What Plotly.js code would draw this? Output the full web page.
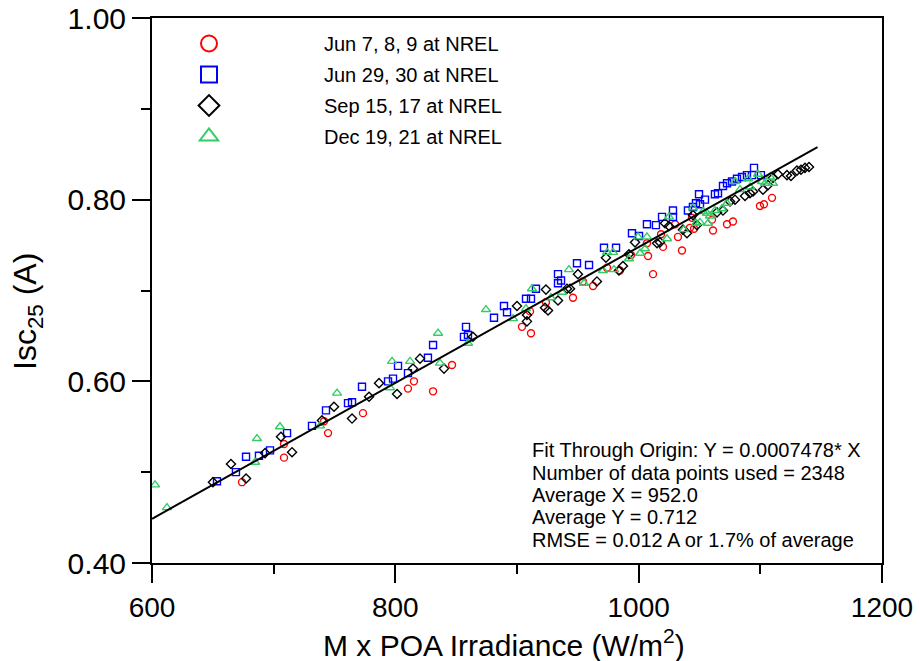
<!DOCTYPE html>
<html>
<head>
<meta charset="utf-8">
<script src="https://cdn.plot.ly/plotly-3.0.1.min.js"></script>
<style>html,body{margin:0;padding:0;background:#fff;}#chart{width:920px;height:661px;}</style>
</head>
<body>
<div id="chart"></div>
<script>
// ---- data ----
const seriesNames = ["Jun 7, 8, 9 at NREL", "Jun 29, 30 at NREL", "Sep 15, 17 at NREL", "Dec 19, 21 at NREL"];

const redX = [674.0,708.5,708.5,741.4,744.7,773.4,810.4,815.3,831.0,846.6,904.1,911.5,910.7,923.8,946.0,954.2,962.5,974.0,984.6,993.7,1007.7,1006.8,1020.0,1011.8,1018.4,1032.3,1035.6,1029.9,1045.5,1043.8,1042.2,1061.1,1072.6,1077.5,1099.7,1103.0,1109.6,1060.3];
const redY = [0.489,0.516,0.531,0.556,0.543,0.565,0.592,0.600,0.589,0.618,0.660,0.653,0.677,0.687,0.692,0.710,0.705,0.725,0.722,0.739,0.738,0.752,0.748,0.718,0.762,0.759,0.744,0.773,0.768,0.780,0.769,0.766,0.773,0.776,0.793,0.795,0.802,0.778];

const blueX = [653.4,669.0,677.3,687.9,697.0,711.0,731.5,743.0,761.1,764.4,772.6,794.0,798.1,802.2,810.4,826.8,831.0,856.4,859.7,858.1,881.1,889.3,891.8,907.4,911.5,915.6,933.7,936.2,933.7,949.3,959.2,971.5,981.4,994.5,1000.3,1006.8,1014.2,1019.2,1028.2,1028.2,1040.5,1044.6,1049.6,1047.1,1050.4,1054.5,1062.7,1065.2,1069.3,1072.6,1076.7,1080.8,1084.9,1089.0,1093.1,1094.8,1100.5];
const blueY = [0.490,0.500,0.517,0.518,0.524,0.543,0.551,0.568,0.576,0.577,0.594,0.600,0.603,0.617,0.609,0.626,0.640,0.649,0.651,0.660,0.670,0.683,0.676,0.691,0.691,0.702,0.718,0.711,0.708,0.730,0.728,0.747,0.747,0.763,0.760,0.773,0.772,0.781,0.788,0.781,0.788,0.792,0.806,0.796,0.795,0.800,0.806,0.807,0.815,0.818,0.820,0.823,0.825,0.827,0.827,0.835,0.827];

const blackX = [650.1,664.9,677.3,692.9,715.1,706.0,739.7,749.6,764.4,778.4,786.6,801.4,814.5,820.3,840.0,863.8,900.0,908.2,908.2,923.8,933.7,923.0,925.5,941.1,943.6,950.1,965.7,973.1,987.1,983.8,992.0,997.0,1015.1,1017.5,1021.6,1024.9,1036.4,1039.7,1044.6,1047.9,1064.4,1069.3,1075.1,1079.2,1087.4,1091.5,1094.0,1102.2,1106.3,1110.4,1114.5,1121.9,1125.2,1130.1,1133.4,1136.7,1140.0];
const blackY = [0.489,0.509,0.493,0.521,0.522,0.539,0.557,0.572,0.559,0.583,0.598,0.586,0.614,0.625,0.614,0.649,0.683,0.673,0.666,0.701,0.689,0.681,0.678,0.702,0.702,0.718,0.710,0.736,0.727,0.722,0.740,0.753,0.752,0.753,0.774,0.771,0.767,0.763,0.783,0.772,0.786,0.788,0.798,0.800,0.804,0.807,0.809,0.811,0.816,0.824,0.828,0.827,0.826,0.832,0.833,0.835,0.836];

const greenX = [602.5,612.3,684.7,686.3,705.2,738.1,752.1,795.6,797.3,812.1,835.1,836.7,859.7,874.5,896.7,907.4,912.3,927.9,937.0,942.7,955.1,970.7,974.0,978.9,979.7,992.0,1001.1,1005.2,999.4,1006.8,1023.3,1024.9,1037.2,1044.6,1047.1,1056.2,1058.6,1052.9,1062.7,1068.5,1072.6,1079.2,1083.3,1089.9,1091.5,1098.1,1101.4,1103.8,1108.0,1110.4,1050.4,1057.0];
const greenY = [0.486,0.461,0.511,0.537,0.550,0.551,0.587,0.593,0.622,0.622,0.653,0.620,0.642,0.679,0.669,0.680,0.702,0.692,0.698,0.723,0.708,0.722,0.742,0.742,0.723,0.735,0.741,0.746,0.759,0.759,0.757,0.781,0.767,0.791,0.774,0.785,0.782,0.787,0.788,0.790,0.796,0.820,0.811,0.823,0.814,0.828,0.820,0.818,0.825,0.818,0.775,0.774];

const fitSlope = 0.0007478;
const fitX = [600, 1147];

const statLines = [
  "Fit Through Origin: Y = 0.0007478* X",
  "Number of data points used = 2348",
  "Average X = 952.0",
  "Average Y = 0.712",
  "RMSE = 0.012 A or 1.7% of average"
];

const xTitle = "M x POA Irradiance (W/m<sup>2</sup>)";
const yTitle = "Isc<sub>25</sub> (A)";
const xTickVals = [600, 800, 1000, 1200];
const yTickVals = [0.40, 0.60, 0.80, 1.00];

// ---- styles ----
const colors = ["#FF0000", "#0000FF", "#000000", "#33CC66"];
const symbols = ["circle-open", "square-open", "diamond-open", "triangle-up-open"];
const sizes = [7, 7, 7, 8];
const xs = [redX, blueX, blackX, greenX];
const ys = [redY, blueY, blackY, greenY];

const traces = [];
for (let i = 0; i < 4; i++) {
  traces.push({
    x: xs[i], y: ys[i], type: "scatter", mode: "markers",
    name: seriesNames[i], showlegend: false, cliponaxis: false,
    legendgroup: "g" + i,
    marker: {symbol: symbols[i], size: sizes[i], color: colors[i], line: {width: 1.4, color: colors[i]}}
  });
}
traces.push({
  x: fitX, y: fitX.map(v => v * fitSlope), type: "scatter", mode: "lines",
  showlegend: false, line: {color: "#000", width: 2}, hoverinfo: "skip"
});
// legend entries
for (let i = 0; i < 4; i++) {
  traces.push({
    x: [null], y: [null], type: "scatter", mode: "markers",
    name: seriesNames[i], showlegend: true, legendgroup: "g" + i,
    marker: {symbol: symbols[i], size: 16, color: colors[i], line: {width: 2, color: colors[i]}}
  });
}

const fontFam = "Liberation Sans, Arial, Helvetica, sans-serif";
const axisCommon = {
  ticks: "outside", ticklen: 18, tickwidth: 2, tickcolor: "#000",
  showline: true, linewidth: 2, linecolor: "#000", mirror: true,
  showgrid: false, zeroline: false
};

const lineYc = [450, 473, 495, 517, 540];
const annotations = statLines.map((t, i) => ({
  text: t, xref: "paper", yref: "paper",
  x: (530 - 152) / 730, y: (563 - lineYc[i]) / 545,
  xanchor: "left", yanchor: "middle", showarrow: false, align: "left",
  font: {size: 20, family: fontFam, color: "#000"}
}));
// axis titles
annotations.push({
  text: xTitle, xref: "paper", yref: "paper",
  x: (504 - 152) / 730, y: (563 - 643) / 545, xanchor: "center", yanchor: "middle",
  showarrow: false, borderpad: 0, font: {size: 30, family: fontFam, color: "#000"}
});
annotations.push({
  text: yTitle, xref: "paper", yref: "paper", textangle: -90,
  x: (28 - 152) / 730, y: (563 - 312) / 545, xanchor: "center", yanchor: "middle",
  showarrow: false, borderpad: 0, font: {size: 32, family: fontFam, color: "#000"}
});

const layout = {
  width: 920, height: 661,
  margin: {l: 152, r: 38, t: 18, b: 98, autoexpand: false},
  paper_bgcolor: "#fff", plot_bgcolor: "#fff",
  font: {family: fontFam, color: "#000"},
  showlegend: true,
  xaxis: Object.assign({}, axisCommon, {
    range: [600, 1200], tickvals: xTickVals, ticktext: xTickVals.map(String),
    tickfont: {size: 28, family: fontFam, color: "#000"},
    minor: {dtick: 100, tick0: 600, ticks: "outside", ticklen: 9, tickwidth: 2, tickcolor: "#000", showgrid: false}
  }),
  yaxis: Object.assign({}, axisCommon, {
    range: [0.40, 1.00], tickvals: yTickVals, ticktext: yTickVals.map(v => v.toFixed(2)),
    tickfont: {size: 30, family: fontFam, color: "#000"},
    minor: {dtick: 0.1, tick0: 0.4, ticks: "outside", ticklen: 9, tickwidth: 2, tickcolor: "#000", showgrid: false}
  }),
  legend: {
    x: (94 - 152) / 730, y: (563 - 24) / 545, xanchor: "left", yanchor: "top",
    bgcolor: "rgba(0,0,0,0)", borderwidth: 0,
    font: {size: 20, family: fontFam, color: "#000"},
    itemwidth: 220, traceorder: "grouped", tracegroupgap: 2
  },
  annotations: annotations
};

Plotly.newPlot("chart", traces, layout, {displayModeBar: false, staticPlot: true});
</script>
</body>
</html>
